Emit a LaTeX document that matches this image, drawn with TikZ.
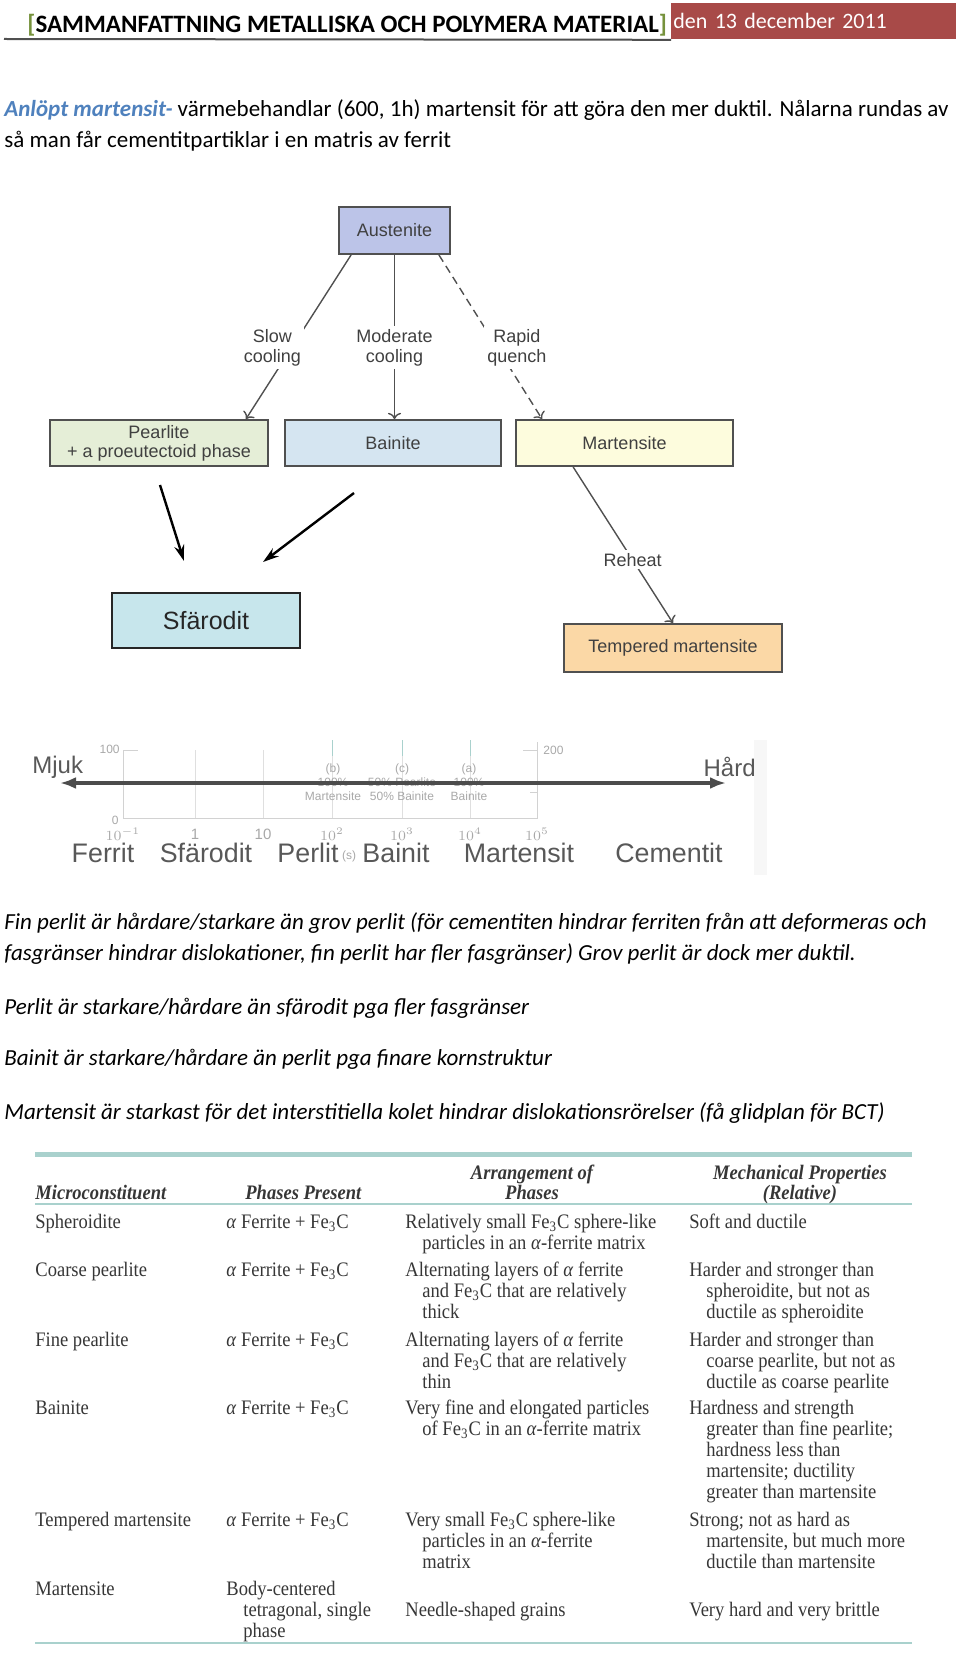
\documentclass[tikz,border=0pt]{standalone}
\usepackage{fontspec}
\setmainfont{Carlito}
\newfontfamily\flowfont{Liberation Sans}
\newfontfamily\tabfont[FakeStretch=0.9]{Liberation Serif}
\usetikzlibrary{arrows.meta}
\definecolor{hdred}{HTML}{A84A48}
\definecolor{hdgreen}{HTML}{76923C}
\definecolor{accblue}{HTML}{4F81BD}
\definecolor{ausfill}{HTML}{BCC4E8}
\definecolor{pearlfill}{HTML}{E5EED7}
\definecolor{bainfill}{HTML}{D5E5F1}
\definecolor{martfill}{HTML}{FDFCDD}
\definecolor{tempfill}{HTML}{FBD8A6}
\definecolor{sfarfill}{HTML}{C7E6EC}
\definecolor{boxline}{HTML}{505050}
\definecolor{flowtext}{HTML}{404040}
\definecolor{scaletext}{HTML}{585858}
\definecolor{faint}{HTML}{D2D2D2}
\definecolor{faintxt}{HTML}{A8A8A8}
\definecolor{tabtext}{HTML}{363636}
\definecolor{tabrule}{HTML}{A9D1CD}
\newcommand\FeC{Fe\textsubscript{3}C}
\newcommand\tabind{\hspace*{8.5pt}}
\newcommand\cellt[1]{\begin{tabular}[t]{@{}l@{}}#1\end{tabular}}
\newcommand\cellc[1]{\begin{tabular}[t]{@{}c@{}}#1\end{tabular}}

\begin{document}
\begin{tikzpicture}[x=0.5pt,y=-0.5pt,
  box/.style={draw=boxline,line width=0.9pt,inner sep=0pt,align=center,minimum height=23pt,
    text=flowtext,font=\flowfont\fontsize{9}{9.5}\selectfont},
  lbl/.style={fill=white,inner sep=1.5pt,align=center,text=flowtext,font=\flowfont\fontsize{9}{10}\selectfont},
  flow/.style={draw=boxline,line width=0.7pt},
  big/.style={line width=1.2pt,-{Stealth[length=8pt,width=5pt]}},
  para/.style={anchor=base west,inner sep=0pt,font=\fontsize{11.5}{15.5}\selectfont},
  itpara/.style={para,font=\itshape\fontsize{11.5}{15.5}\selectfont},
  scalelab/.style={text=scaletext,inner sep=0pt,font=\flowfont\fontsize{13.4}{14}\selectfont},
  faintlab/.style={text=faintxt,inner sep=0pt,align=center,font=\flowfont\fontsize{6}{7}\selectfont},
  cell/.style={anchor=base west,inner sep=0pt,text=tabtext,font=\tabfont\fontsize{10.3}{10.5}\selectfont},
  head/.style={cell,font=\tabfont\bfseries\itshape\fontsize{10.3}{10}\selectfont}]

\useasboundingbox (0,0) rectangle (960,1653);

% header
\node[fill=hdred,anchor=north west,inner xsep=1pt,text width=140.5pt,minimum height=18pt,
  text=white,font=\fontsize{11}{13}\selectfont] (date) at (671,3) {den 13 december 2011};
\node[anchor=base west,inner sep=0pt,font=\bfseries\fontsize{12.5}{14}\selectfont] (title) at (27,33)
  {\textcolor{hdgreen}{[}SAMMANFATTNING METALLISKA OCH POLYMERA MATERIAL\textcolor{hdgreen}{]}};
\draw[line width=1pt,color=boxline] (4,39) -- (date.south west);

\node[para] (anl1) at (4,117) {\textcolor{accblue}{\bfseries\itshape Anlöpt martensit-} värmebehandlar (600, 1h) martensit för att göra den mer duktil. Nålarna rundas av};
\node[para] (anl2) at (4,148) {så man får cementitpartiklar i en matris av ferrit};

% flowchart
\node[box,fill=ausfill,minimum width=55.5pt,minimum height=23.5pt] (aus) at (394.5,230.5) {Austenite};
\node[box,fill=pearlfill,minimum width=109pt] (pearl) at (159,443) {Pearlite\\+ a proeutectoid phase};
\node[box,fill=bainfill,minimum width=108pt] (bain) at (393,443) {Bainite};
\node[box,fill=martfill,minimum width=108.5pt] (mart) at (624.5,443) {Martensite};
\node[box,fill=tempfill,minimum width=109pt,minimum height=24pt] (temp) at (673,648) {Tempered martensite};
\node[box,draw=black!85,fill=sfarfill,minimum width=94pt,minimum height=27.5pt,text=black!85,
  font=\flowfont\fontsize{12.5}{14}\selectfont] (sfar) at (206,620.5) {Sfärodit};

\draw[flow,->] ([xshift=6.5pt]aus.south west) -- node[lbl,pos=0.567,xshift=-9.5pt] (slow) {Slow\\cooling} ([xshift=-11.5pt]pearl.north east);
\draw[flow,->] (aus.south) -- node[lbl,pos=0.566] (moder) {Moderate\\cooling} (aus.south |- bain.north);
\draw[flow,->,dash pattern=on 4pt off 2.5pt] ([xshift=-6pt]aus.south east) -- node[lbl,pos=0.566,xshift=9.8pt] (rapid) {Rapid\\quench} ([xshift=13.5pt]mart.north west);
\draw[flow,->] ([xshift=29pt]mart.south west) -- node[lbl,pos=0.595] (reheat) {Reheat} (temp.north);

\coordinate (pfrom) at (160,485);
\coordinate (pto) at (184,561);
\coordinate (bfrom) at (354,493);
\coordinate (bto) at (263,562);
\draw[big] (pfrom) -- (pto);
\draw[big] (bfrom) -- (bto);

% hardness scale
\fill[black!3] (754,740) rectangle (767,875);
\draw[faint] (123,750) -- (123,818) -- (537,818) -- (537,742);
\foreach \x in {195,263,332,402,470}
  \draw[faint!70] (\x,750) -- (\x,818);
\foreach \x in {332,402,470}
  \draw[tabrule] (\x,740) -- (\x,756);
\draw[faint] (123,750) -- (138,750);
\draw[faint] (523,750) -- (537,750);
\draw[faint] (530,792) -- (537,792);
\node[faintlab,anchor=east] (y100) at (120,749) {100};
\node[faintlab,anchor=east] (y0) at (119,820) {0};
\node[faintlab,anchor=west] (y200) at (543,750) {200};
\foreach \x/\e in {123/$10^{-1}$,195/1,263/10,332/$10^2$,402/$10^3$,470/$10^4$,537/$10^5$}
  \node[faintlab,font=\flowfont\fontsize{7.5}{8}\selectfont] (tk\x) at (\x,834) {\e};
\foreach \x/\t in {333/{(b)\\100\%\\Martensite},402/{(c)\\50\% Pearlite\\50\% Bainite},469/{(a)\\100\%\\Bainite}}
  \node[faintlab] (an\x) at (\x,782) {\t};
\node[faintlab] (secs) at (349,856) {(s)};

\node[scalelab,anchor=west,font=\flowfont\fontsize{12}{14}\selectfont] (mjuk) at (32,767) {Mjuk};
\node[scalelab,anchor=east,font=\flowfont\fontsize{12}{14}\selectfont] (hard) at (756,767) {Hård};
\coordinate (soft) at (60,783);
\coordinate (stiff) at (726,783);
\draw[line width=2pt,color=black!70,{Latex[length=8pt,width=6pt]}-{Latex[length=8pt,width=6pt]}] (soft) -- (stiff);
\foreach \x/\name in {103/Ferrit,206/Sfärodit,308/Perlit,396/Bainit,519/Martensit,669/Cementit}
  \node[scalelab] (s\x) at (\x,853) {\name};

% remarks
\node[itpara] (fin1) at (4,929) {Fin perlit är hårdare/starkare än grov perlit (för cementiten hindrar ferriten från att deformeras och};
\node[itpara] (fin2) at (4,960) {fasgränser hindrar dislokationer, fin perlit har fler fasgränser) Grov perlit är dock mer duktil.};
\node[itpara] (perl) at (4,1014) {Perlit är starkare/hårdare än sfärodit pga fler fasgränser};
\node[itpara] (bain) at (4,1065) {Bainit är starkare/hårdare än perlit pga finare kornstruktur};
\node[itpara] (mrt) at (4,1119) {Martensit är starkast för det interstitiella kolet hindrar dislokationsrörelser (få glidplan för BCT)};

% table
\draw[tabrule,line width=2.5pt] (35,1154) -- (912,1154);
\draw[tabrule,line width=1.4pt] (35,1204) -- (912,1204);
\draw[tabrule,line width=1.4pt] (35,1643) -- (912,1643);
\node[head] (hmicro) at (35,1199) {Microconstituent};
\node[head] (hphase) at (245,1199) {Phases Present};
\node[head,anchor=base] (harr) at (532,1179) {\cellc{Arrangement of\\Phases}};
\node[head,anchor=base] (hmech) at (800,1179) {\cellc{Mechanical Properties\\(Relative)}};

\foreach \y/\a/\c/\d in {
  1228/Spheroidite/{Relatively small \FeC{} sphere-like\\\tabind particles in an \textit{α}-ferrite matrix}/{Soft and ductile},
  1276/Coarse pearlite/{Alternating layers of \textit{α} ferrite\\\tabind and \FeC{} that are relatively\\\tabind thick}/{Harder and stronger than\\\tabind spheroidite, but not as\\\tabind ductile as spheroidite},
  1346/Fine pearlite/{Alternating layers of \textit{α} ferrite\\\tabind and \FeC{} that are relatively\\\tabind thin}/{Harder and stronger than\\\tabind coarse pearlite, but not as\\\tabind ductile as coarse pearlite},
  1414/Bainite/{Very fine and elongated particles\\\tabind of \FeC{} in an \textit{α}-ferrite matrix}/{Hardness and strength\\\tabind greater than fine pearlite;\\\tabind hardness less than\\\tabind martensite; ductility\\\tabind greater than martensite},
  1526/Tempered martensite/{Very small \FeC{} sphere-like\\\tabind particles in an \textit{α}-ferrite\\\tabind matrix}/{Strong; not as hard as\\\tabind martensite, but much more\\\tabind ductile than martensite}}
{
  \node[cell] (m\y) at (35,\y) {\a};
  \node[cell] (p\y) at (226,\y) {\textit{α} Ferrite + \FeC};
  \node[cell] (r\y) at (405,\y) {\cellt{\c}};
  \node[cell] (q\y) at (689,\y) {\cellt{\d}};
}
\node[cell] (m1595) at (35,1595) {Martensite};
\node[cell] (p1595) at (226,1595) {\cellt{Body-centered\\\tabind tetragonal, single\\\tabind phase}};
\node[cell] (r1616) at (405,1616) {Needle-shaped grains};
\node[cell] (q1616) at (689,1616) {Very hard and very brittle};

\end{tikzpicture}
\end{document}
